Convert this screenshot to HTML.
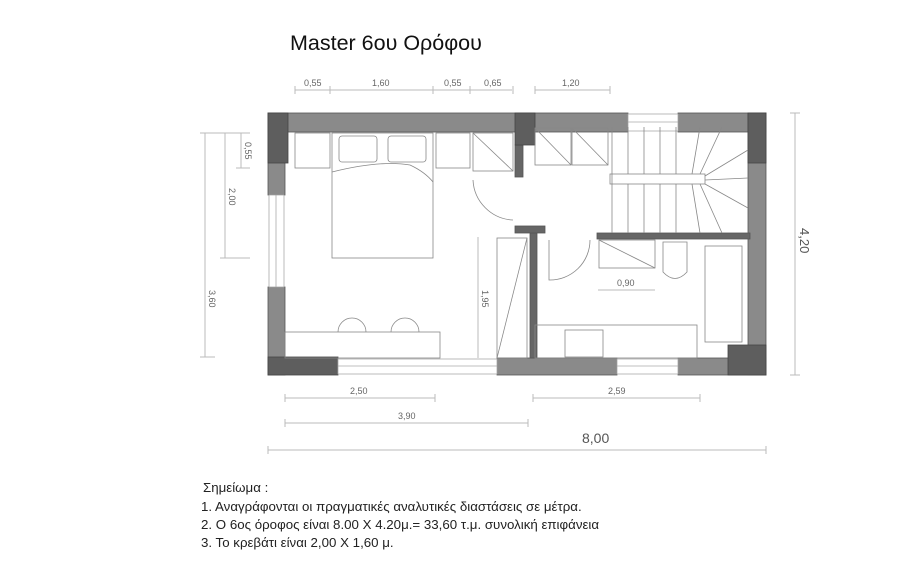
<!DOCTYPE html>
<html><head><meta charset="utf-8"><style>
html,body{margin:0;padding:0;background:#fff;}
svg{display:block;font-family:"Liberation Sans",sans-serif;}
</style></head><body>
<svg width="900" height="587" viewBox="0 0 900 587" xmlns="http://www.w3.org/2000/svg">
<rect width="900" height="587" fill="#fff"/>
<text x="290" y="50" font-size="21.5" fill="#111">Master 6ου Ορόφου</text>

<g stroke="#bbb" stroke-width="1" fill="none">
<line x1="295" y1="90" x2="512" y2="90"/><line x1="535" y1="90" x2="610" y2="90"/>
<line x1="295" y1="86" x2="295" y2="94"/><line x1="330" y1="86" x2="330" y2="94"/><line x1="433" y1="86" x2="433" y2="94"/><line x1="470" y1="86" x2="470" y2="94"/><line x1="513" y1="86" x2="513" y2="94"/><line x1="535" y1="86" x2="535" y2="94"/><line x1="610" y1="86" x2="610" y2="94"/>
<line x1="205" y1="133" x2="205" y2="357"/><line x1="200" y1="133" x2="250" y2="133"/><line x1="200" y1="357" x2="215" y2="357"/>
<line x1="225" y1="133" x2="225" y2="258"/><line x1="220" y1="258" x2="250" y2="258"/>
<line x1="241" y1="133" x2="241" y2="168"/><line x1="236" y1="168" x2="250" y2="168"/>
<line x1="795" y1="113" x2="795" y2="375"/><line x1="790" y1="113" x2="800" y2="113"/><line x1="790" y1="375" x2="800" y2="375"/>
<line x1="285" y1="398" x2="435" y2="398"/><line x1="285" y1="394" x2="285" y2="402"/><line x1="435" y1="394" x2="435" y2="402"/>
<line x1="285" y1="423" x2="528" y2="423"/><line x1="285" y1="419" x2="285" y2="427"/><line x1="528" y1="419" x2="528" y2="427"/>
<line x1="533" y1="398" x2="700" y2="398"/><line x1="533" y1="394" x2="533" y2="402"/><line x1="700" y1="394" x2="700" y2="402"/>
<line x1="268" y1="450" x2="766" y2="450"/><line x1="268" y1="446" x2="268" y2="454"/><line x1="766" y1="446" x2="766" y2="454"/>
<line x1="478" y1="237" x2="478" y2="358"/>
<line x1="598" y1="290" x2="655" y2="290"/>
</g>
<g font-size="9" fill="#666">
<text x="304" y="86">0,55</text><text x="372" y="86">1,60</text><text x="444" y="86">0,55</text><text x="484" y="86">0,65</text><text x="562" y="86">1,20</text>
<text x="350" y="394">2,50</text><text x="398" y="419">3,90</text><text x="608" y="394">2,59</text>
<text x="617" y="286">0,90</text>
<text transform="translate(245,142) rotate(90)">0,55</text>
<text transform="translate(229,188) rotate(90)">2,00</text>
<text transform="translate(209,290) rotate(90)">3,60</text>
<text transform="translate(482,290) rotate(90)">1,95</text>
</g>
<text transform="translate(800,228) rotate(90)" font-size="13" fill="#555">4,20</text>
<text x="582" y="443" font-size="14" fill="#555">8,00</text>

<g fill="#8a8a8a" stroke="#555" stroke-width="0.8">
<rect x="268" y="113" width="360" height="19"/><rect x="678" y="113" width="88" height="19"/>
<rect x="268" y="113" width="17" height="82"/><rect x="268" y="287" width="17" height="88"/>
<rect x="748" y="113" width="18" height="262"/>
<rect x="497" y="358" width="120" height="17"/><rect x="678" y="358" width="88" height="17"/>
<rect x="530" y="233" width="7" height="125" fill="#666"/>
<rect x="515" y="226" width="30" height="7" fill="#666"/>
<rect x="597" y="233" width="153" height="6" fill="#666"/>
<rect x="515" y="145" width="8" height="32" fill="#666"/>
</g>
<g fill="#5e5e5e" stroke="#444" stroke-width="0.8">
<rect x="268" y="113" width="20" height="50"/><rect x="515" y="113" width="20" height="32"/>
<rect x="748" y="113" width="18" height="50"/><rect x="268" y="357" width="70" height="18"/>
<rect x="728" y="345" width="38" height="30"/>
</g>
<g fill="#fff" stroke="#aaa" stroke-width="0.8">
<rect x="628" y="114" width="50" height="17"/><line x1="628" y1="122" x2="678" y2="122"/>
<rect x="269" y="195" width="15" height="92"/><line x1="276" y1="195" x2="276" y2="287"/>
<rect x="338" y="359" width="159" height="15"/><line x1="338" y1="366" x2="497" y2="366"/>
<rect x="617" y="359" width="61" height="15"/><line x1="617" y1="366" x2="678" y2="366"/>
</g>
<g fill="none" stroke="#888" stroke-width="0.8">
<rect x="295" y="133" width="35" height="35"/><rect x="436" y="133" width="34" height="35"/>
<rect x="473" y="133" width="40" height="38"/><line x1="473" y1="133" x2="513" y2="171"/>
<rect x="332" y="133" width="101" height="125"/>
<rect x="339" y="136" width="38" height="26" rx="3"/><rect x="388" y="136" width="38" height="26" rx="3"/>
<path d="M332 172 Q380 160 410 165 Q425 172 433 182"/>
<rect x="285" y="332" width="155" height="26"/>
<path d="M338 332 A14 14 0 0 1 366 332"/><path d="M391 332 A14 14 0 0 1 419 332"/>
<rect x="497" y="238" width="30" height="120"/><line x1="497" y1="358" x2="527" y2="238"/>
<path d="M473 180 A42 42 0 0 0 513 220"/>
<rect x="535" y="128" width="36" height="37"/><line x1="535" y1="128" x2="571" y2="165"/>
<rect x="572" y="128" width="36" height="37"/><line x1="572" y1="128" x2="608" y2="165"/>
<rect x="610" y="174" width="95" height="10"/>
<line x1="612" y1="127" x2="612" y2="233"/>
<line x1="628" y1="127" x2="628" y2="174"/><line x1="644" y1="127" x2="644" y2="174"/><line x1="660" y1="127" x2="660" y2="174"/><line x1="676" y1="127" x2="676" y2="174"/>
<line x1="628" y1="184" x2="628" y2="233"/><line x1="644" y1="184" x2="644" y2="233"/><line x1="660" y1="184" x2="660" y2="233"/><line x1="676" y1="184" x2="676" y2="233"/>
<line x1="692" y1="174" x2="700" y2="127"/><line x1="700" y1="174" x2="722" y2="127"/><line x1="705" y1="176" x2="748" y2="150"/><line x1="705" y1="180" x2="748" y2="178"/><line x1="705" y1="184" x2="748" y2="208"/><line x1="700" y1="184" x2="722" y2="233"/><line x1="692" y1="184" x2="700" y2="233"/>
<rect x="599" y="240" width="56" height="28"/><line x1="599" y1="240" x2="655" y2="268"/>
<path d="M663 242 L687 242 L687 272 Q675 285 663 272 Z"/>
<rect x="705" y="246" width="37" height="96"/>
<path d="M549 240 L549 280 A40 40 0 0 0 590 240"/>
<rect x="535" y="325" width="162" height="33"/><rect x="565" y="330" width="38" height="27"/>
</g>

<g font-size="13.3" fill="#222">
<text x="203" y="492">Σημείωμα :</text>
<text x="201" y="511">1. Αναγράφονται οι πραγματικές αναλυτικές διαστάσεις σε μέτρα.</text>
<text x="201" y="529">2. Ο 6ος όροφος είναι 8.00 Χ 4.20μ.= 33,60 τ.μ. συνολική επιφάνεια</text>
<text x="201" y="547">3. Το κρεβάτι είναι 2,00 Χ 1,60 μ.</text>
</g>
</svg>
</body></html>
